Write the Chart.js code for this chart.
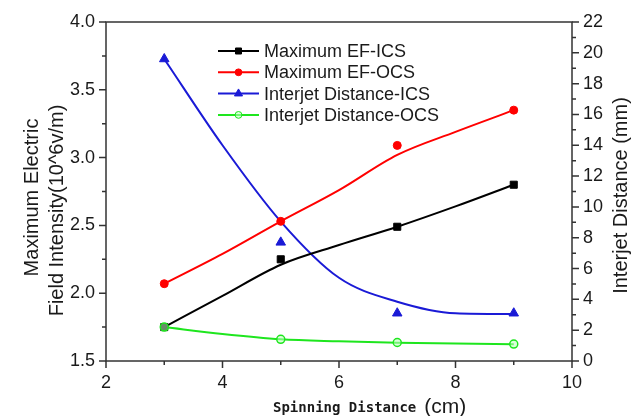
<!DOCTYPE html>
<html><head><meta charset="utf-8">
<script src="https://cdn.jsdelivr.net/npm/chart.js@4"></script>
<style>html,body{margin:0;padding:0;background:#fff}#wrap{width:632px;height:416px}</style>
</head><body><div id="wrap"><canvas id="c" width="632" height="416"></canvas></div>
<script>
// ---- data ----
const spinX = [3, 5, 7, 9];
const efIcs = [1.75, 2.25, 2.49, 2.80];
const efOcs = [2.07, 2.53, 3.09, 3.35];
const ijIcs = [19.6, 7.7, 3.1, 3.1];
const ijOcs = [2.2, 1.41, 1.2, 1.1];

// fitted curves
const fitX = [3, 4, 5, 6, 7, 8, 9];
const efIcsFit = [1.75, 1.98, 2.21, 2.355, 2.49, 2.64, 2.80];
const efOcsFit = [2.07, 2.29, 2.53, 2.76, 3.02, 3.19, 3.35];
const ijIcsFit = [19.6, 14.0, 9.05, 5.4, 3.85, 3.1, 3.05];
const ijOcsFit = [2.2, 1.75, 1.41, 1.28, 1.19, 1.13, 1.09];

const seriesNames = ['Maximum EF-ICS', 'Maximum EF-OCS', 'Interjet Distance-ICS', 'Interjet Distance-OCS'];

const xTicks = [2, 4, 6, 8, 10];
const leftTicks = [1.5, 2.0, 2.5, 3.0, 3.5, 4.0];
const rightTicks = [0, 2, 4, 6, 8, 10, 12, 14, 16, 18, 20, 22];

const xTitleA = 'Spinning Distance';
const xTitleB = '(cm)';
const yTitle = ['Maximum Electric', 'Field Intensity(10^6v/m)'];
const y2Title = 'Interjet Distance (mm)';

// ---- styles ----
const COLORS = ['#000000', '#ff0000', '#1a1ad6', '#1ee61e'];
const FILLS = ['#000000', '#ff0000', '#1a1ad6', 'rgba(190,255,190,0.55)'];
const STYLES = ['rect', 'circle', 'triangle', 'circle'];
const RADII = [5, 4, 5.5, 4];
const AXES = ['y', 'y', 'y2', 'y2'];
const TXT = '#1a1a1a';
const SANS = "'Liberation Sans', Arial, sans-serif";
Chart.defaults.font.family = SANS;

const pts = (xs, ys) => xs.map((x, i) => ({x: x, y: ys[i]}));
const pointSets = [efIcs, efOcs, ijIcs, ijOcs];
const fitSets = [efIcsFit, efOcsFit, ijIcsFit, ijOcsFit];

const datasets = [];
fitSets.forEach((ys, i) => datasets.push({
  label: seriesNames[i] + ' fit', data: pts(fitX, ys), yAxisID: AXES[i],
  showLine: true, borderColor: COLORS[i], borderWidth: 2, pointRadius: 0,
  cubicInterpolationMode: 'monotone', fill: false, order: 10
}));
pointSets.forEach((ys, i) => datasets.push({
  label: seriesNames[i], data: pts(spinX, ys), yAxisID: AXES[i],
  showLine: false, pointStyle: STYLES[i], pointRadius: RADII[i],
  pointBackgroundColor: FILLS[i], pointBorderColor: COLORS[i], pointBorderWidth: i === 3 ? 1.5 : 1,
  order: 3 - i
}));

const tickFont = {size: 18, family: SANS};

const framePlugin = {
  id: 'frame',
  afterDraw(chart) {
    const ctx = chart.ctx;
    const a = chart.chartArea;
    const sx = chart.scales.x, sy = chart.scales.y, sy2 = chart.scales.y2;
    ctx.save();
    ctx.strokeStyle = '#333';
    ctx.lineWidth = 1.5;
    ctx.strokeRect(a.left, a.top, a.right - a.left, a.bottom - a.top);
    ctx.beginPath();
    for (let v = sx.min; v <= sx.max + 1e-9; v += 1) {
      const p = sx.getPixelForValue(v);
      const len = (Math.round(v) % 2 === 0) ? 7 : 4;
      ctx.moveTo(p, a.bottom); ctx.lineTo(p, a.bottom + len);
    }
    for (let k = 0; k <= 10; k++) {
      const v = sy.min + k * 0.25;
      const p = sy.getPixelForValue(v);
      const len = (k % 2 === 0) ? 7 : 4;
      ctx.moveTo(a.left, p); ctx.lineTo(a.left - len, p);
    }
    for (let v = sy2.min; v <= sy2.max; v++) {
      const p = sy2.getPixelForValue(v);
      const len = (v % 2 === 0) ? 7 : 4;
      ctx.moveTo(a.right, p); ctx.lineTo(a.right + len, p);
    }
    ctx.stroke();

    // titles
    ctx.fillStyle = TXT;
    ctx.textBaseline = 'alphabetic';
    ctx.textAlign = 'left';
    ctx.font = "bold 14px 'DejaVu Sans Mono', monospace";
    ctx.fillText(xTitleA, 273, 412);
    const wA = ctx.measureText(xTitleA).width;
    ctx.font = '21px ' + SANS;
    ctx.fillText(xTitleB, 273 + wA + 8, 413);

    const cy = (a.top + a.bottom) / 2;
    ctx.font = '20px ' + SANS;
    ctx.textAlign = 'center';
    ctx.textBaseline = 'middle';
    [[32, 6], [57, 19]].forEach(([x, off], i) => {
      ctx.save(); ctx.translate(x, cy + off); ctx.rotate(-Math.PI / 2);
      ctx.fillText(yTitle[i], 0, 0); ctx.restore();
    });
    ctx.save(); ctx.translate(621, cy + 4); ctx.rotate(-Math.PI / 2);
    ctx.fillText(y2Title, 0, 0); ctx.restore();

    // legend
    const lx0 = 218, lx1 = 259, tx = 264, ly0 = 51, dy = 21.3;
    ctx.font = '18px ' + SANS;
    ctx.textAlign = 'left';
    seriesNames.forEach((name, i) => {
      const y = ly0 + i * dy;
      ctx.strokeStyle = COLORS[i]; ctx.lineWidth = 2;
      ctx.beginPath(); ctx.moveTo(lx0, y); ctx.lineTo(lx1, y); ctx.stroke();
      ctx.fillStyle = FILLS[i]; ctx.strokeStyle = COLORS[i]; ctx.lineWidth = 1;
      Chart.helpers.drawPoint(ctx, {pointStyle: STYLES[i], radius: RADII[i] * 0.85, borderWidth: 1, rotation: 0}, (lx0 + lx1) / 2, y);
      ctx.fillStyle = TXT;
      ctx.textBaseline = 'middle';
      ctx.fillText(name, tx, y + 1);
    });
    ctx.restore();
  }
};

new Chart(document.getElementById('c'), {
  type: 'scatter',
  data: {datasets: datasets},
  options: {
    responsive: false, animation: false,
    layout: {padding: {top: 22, left: 0, right: 0, bottom: 0}},
    plugins: {legend: {display: false}, tooltip: {enabled: false}},
    scales: {
      x: {
        type: 'linear', min: 2, max: 10,
        afterBuildTicks: s => { s.ticks = xTicks.map(v => ({value: v})); },
        ticks: {font: tickFont, color: TXT, padding: 4, maxRotation: 0, autoSkip: false},
        grid: {display: false, drawTicks: true, tickLength: 7}, border: {display: false},
        afterFit: s => { s.height = 55; }
      },
      y: {
        position: 'left', min: 1.5, max: 4,
        afterBuildTicks: s => { s.ticks = leftTicks.map(v => ({value: v})); },
        ticks: {font: tickFont, color: TXT, padding: 4, callback: v => Number(v).toFixed(1)},
        grid: {display: false, drawTicks: true, tickLength: 7}, border: {display: false},
        afterFit: s => { s.width = 106; }
      },
      y2: {
        position: 'right', min: 0, max: 22,
        afterBuildTicks: s => { s.ticks = rightTicks.map(v => ({value: v})); },
        ticks: {font: tickFont, color: TXT, padding: 4},
        grid: {display: false, drawTicks: true, tickLength: 7}, border: {display: false},
        afterFit: s => { s.width = 60; }
      }
    }
  },
  plugins: [framePlugin]
});
</script></body></html>
